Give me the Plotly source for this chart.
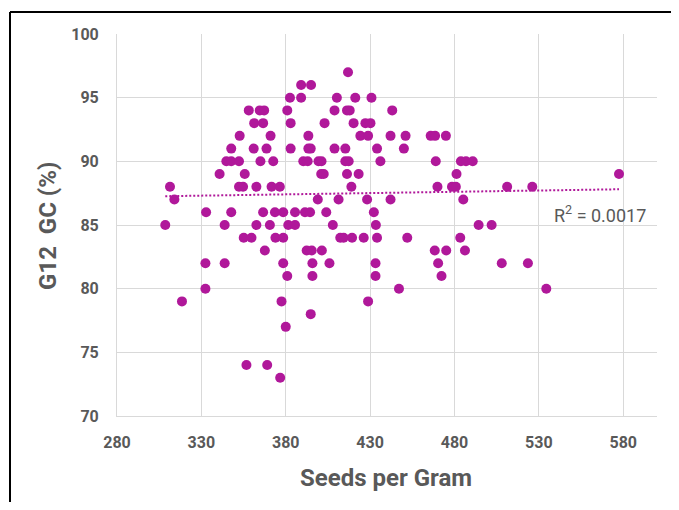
import numpy as np
import plotly.graph_objects as go

# Data (x: seeds per gram, y: G12 GC %)
seeds_per_gram = [
    376.7,
    356.7, 369.0,
    380.0,
    394.8,
    318.5, 377.5, 428.8,
    332.4, 447.1, 534.4,
    380.9, 395.8, 433.2, 472.3,
    332.4, 343.8, 378.5, 395.8, 405.9, 433.2, 470.3, 508.0, 523.5,
    367.6, 392.4, 395.4, 401.4, 468.3, 475.1, 486.2,
    355.1, 359.7, 373.9, 378.5, 412.3, 414.3, 419.3, 426.2, 434.1, 452.0, 483.4,
    308.6, 343.8, 362.6, 370.6, 381.5, 385.5, 407.9, 433.4, 494.3, 502.0,
    332.8, 347.7, 366.6, 373.6, 378.5, 385.5, 391.4, 394.4, 404.0, 432.2,
    314.0, 399.0, 411.3, 428.2, 442.1, 485.2,
    311.4, 352.3, 354.7, 362.6, 371.6, 376.5, 418.9, 469.9, 478.5, 480.8, 511.2, 526.1,
    340.8, 355.7, 401.0, 402.5, 416.3, 423.2, 481.2, 577.5,
    344.8, 347.7, 352.3, 365.0, 372.6, 390.4, 393.0, 399.4, 401.2, 415.3, 417.3, 436.1, 468.9, 483.8, 486.8, 490.8,
    347.7, 361.0, 368.6, 382.9, 393.4, 394.8, 408.9, 415.3, 434.1, 450.0,
    352.7, 371.0, 393.4, 424.2, 428.8, 442.1, 451.0, 465.9, 468.5, 474.9,
    361.3, 366.6, 382.9, 403.0, 420.2, 427.2, 430.2,
    358.1, 364.6, 367.2, 380.9, 408.9, 416.3, 417.9, 443.1,
    382.5, 389.1, 410.3, 421.2, 430.8,
    389.1, 395.0,
    416.9,
]
g12_gc = (
    [73] * 1 + [74] * 2 + [77] * 1 + [78] * 1 + [79] * 3 + [80] * 3 + [81] * 4
    + [82] * 9 + [83] * 7 + [84] * 11 + [85] * 10 + [86] * 10 + [87] * 6
    + [88] * 12 + [89] * 8 + [90] * 16 + [91] * 10 + [92] * 10 + [93] * 7
    + [94] * 8 + [95] * 5 + [96] * 2 + [97] * 1
)
r2_label = "R<sup>2</sup> = 0.0017"
x_tick_vals = [280, 330, 380, 430, 480, 530, 580]
y_tick_vals = [70, 75, 80, 85, 90, 95, 100]

x_arr = np.array(seeds_per_gram)
y_arr = np.array(g12_gc, dtype=float)
slope, intercept = np.polyfit(x_arr, y_arr, 1)
trend_x = np.array([x_arr.min(), x_arr.max()])
trend_y = slope * trend_x + intercept

POINT = "#B0189A"
GRID = "#D9D9D9"
TXT = "#595959"
FONT = "Roboto"

fig = go.Figure()
fig.add_trace(go.Scatter(
    x=trend_x, y=trend_y, mode="lines",
    line=dict(color=POINT, width=2, dash="2px,2px"),
    hoverinfo="skip", showlegend=False,
))
fig.add_trace(go.Scatter(
    x=seeds_per_gram, y=g12_gc, mode="markers",
    marker=dict(color=POINT, size=10, line=dict(width=0)),
    showlegend=False,
))

# page body adds an 8px margin on every side; keep the figure inside the
# window (no scrollbars) and shift so screen positions match the reference
OFF = 8
W, H = 679 - 2 * OFF, 510 - 2 * OFF
L = 117 - OFF
T = 34 - OFF
B = H - (416 - OFF)
R = W - (657 - OFF)
pw, ph = W - L - R, H - T - B


def px(xs):
    """screen x pixel -> paper coordinate"""
    return (xs - OFF - L) / pw


def py(ys):
    """screen y pixel -> paper coordinate"""
    return (416 - ys) / ph


fig.update_layout(
    width=W, height=H,
    margin=dict(l=L, r=R, t=T, b=B, autoexpand=False),
    paper_bgcolor="white", plot_bgcolor="white",
    font=dict(family=FONT, color=TXT),
    xaxis=dict(
        range=[280, 600], tickvals=x_tick_vals,
        showgrid=True, gridcolor=GRID, gridwidth=1,
        showline=True, linecolor=GRID, linewidth=1,
        zeroline=False, ticks="",
        tickfont=dict(family=FONT, size=16, color=TXT, weight="bold"),
        ticklabelstandoff=12,
    ),
    yaxis=dict(
        range=[70, 100], tickvals=y_tick_vals,
        showgrid=True, gridcolor=GRID, gridwidth=1,
        showline=True, linecolor=GRID, linewidth=1,
        zeroline=False, ticks="",
        tickfont=dict(family=FONT, size=16, color=TXT, weight="bold"),
        ticklabelstandoff=14,
    ),
    annotations=[
        dict(text="Seeds per Gram", xref="paper", yref="paper",
             x=px(386), y=py(478), showarrow=False,
             font=dict(family=FONT, size=24, color=TXT, weight="bold"),
             xanchor="center", yanchor="middle"),
        dict(text="G12\u00a0\u00a0GC (%)", xref="paper", yref="paper",
             x=px(48), y=py(226), showarrow=False, textangle=-90,
             font=dict(family=FONT, size=24, color=TXT, weight="bold"),
             xanchor="center", yanchor="middle"),
        dict(text=r2_label, xref="paper", yref="paper",
             x=px(600), y=py(214), showarrow=False,
             font=dict(family=FONT, size=18, color=TXT),
             xanchor="center", yanchor="middle"),
    ],
    shapes=[
        dict(type="line", xref="paper", yref="paper",
             x0=px(10), x1=px(720), y0=py(12), y1=py(12),
             line=dict(color="black", width=2)),
        dict(type="line", xref="paper", yref="paper",
             x0=px(10), x1=px(10), y0=py(12), y1=py(540),
             line=dict(color="black", width=2)),
    ],
)

fig.write_html("out.html")
